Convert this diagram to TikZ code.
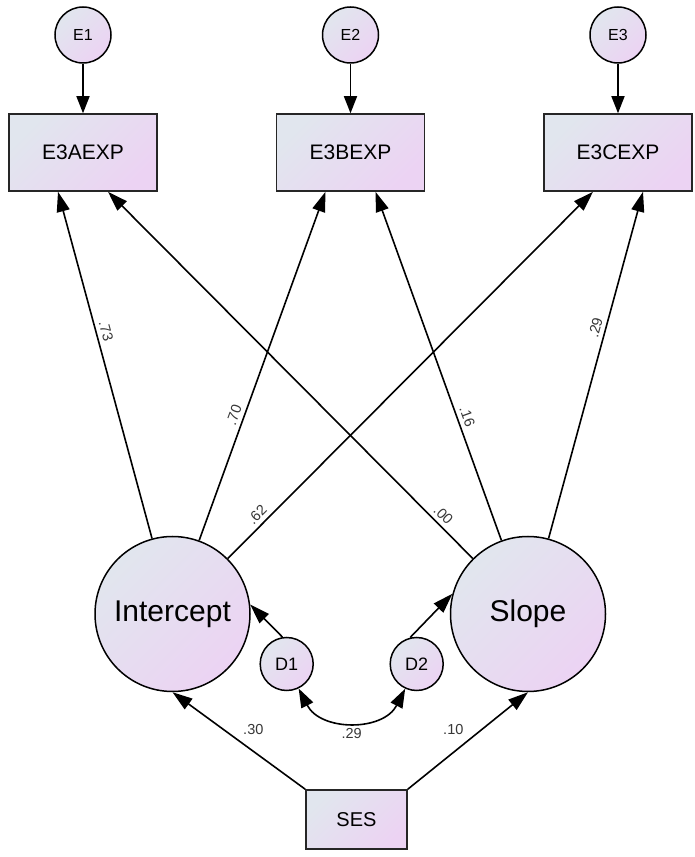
\documentclass[tikz,border=0pt]{standalone}
\usepackage{fontspec}
\setmainfont{Liberation Sans}
\usetikzlibrary{arrows.meta,calc}
\definecolor{fillA}{RGB}{225,230,238}
\definecolor{fillB}{RGB}{236,211,243}
\definecolor{lblgray}{RGB}{55,55,55}
\begin{document}
\begin{tikzpicture}[x=1pt,y=1pt,
  shadefill/.style={top color=fillA,bottom color=fillB,shading angle=45},
  lat/.style={circle,draw=black,line width=1.5pt,shadefill,inner sep=0pt},
  obs/.style={rectangle,draw=black!85,line width=1.5pt,shadefill,inner sep=0pt,minimum width=148pt,minimum height=77pt,font=\fontsize{21}{25}\selectfont},
  arr/.style={line width=1.6pt,-{Triangle[length=20pt,width=13pt]}},
  darr/.style={line width=1.6pt,{Triangle[length=19pt,width=13pt]}-{Triangle[length=19pt,width=13pt]}},
  coef/.style={font=\fontsize{14.5}{16}\selectfont,text=lblgray,inner sep=1pt},
]
\useasboundingbox (0,0) rectangle (694,857);
% error terms
\node[lat,minimum size=56pt,font=\fontsize{16}{18}\selectfont] (E1) at (83,822) {E1};
\node[lat,minimum size=56pt,font=\fontsize{16}{18}\selectfont] (E2) at (350.5,822) {E2};
\node[lat,minimum size=56pt,font=\fontsize{16}{18}\selectfont] (E3) at (618,822) {E3};
% observed
\node[obs] (B1) at (83,704.5) {E3AEXP};
\node[obs] (B2) at (350.5,704.5) {E3BEXP};
\node[obs] (B3) at (618,704.5) {E3CEXP};
% latent
\node[lat,minimum size=155pt,font=\fontsize{30}{34}\selectfont] (Int) at (172.5,243) {Intercept};
\node[lat,minimum size=155pt,font=\fontsize{30}{34}\selectfont] (Slope) at (528,243) {Slope};
\node[lat,minimum size=53pt,font=\fontsize{18}{20}\selectfont] (D1) at (286.7,193) {D1};
\node[lat,minimum size=53pt,font=\fontsize{18}{20}\selectfont] (D2) at (416.7,193) {D2};
\node[obs,minimum width=101pt,minimum height=59pt,font=\fontsize{20}{24}\selectfont] (SES) at (356.5,37.5) {SES};
% targets on box bottoms
\coordinate (a1) at ($(B1.south)+(-25,0)$);
\coordinate (a2) at ($(B1.south)+(25,0)$);
\coordinate (b1) at ($(B2.south)+(-25,0)$);
\coordinate (b2) at ($(B2.south)+(25,0)$);
\coordinate (c1) at ($(B3.south)+(-25,0)$);
\coordinate (c2) at ($(B3.south)+(25,0)$);
% arrows
\draw[arr,-{Triangle[length=17pt,width=13pt]}] (E1) -- (B1);
\draw[arr,-{Triangle[length=17pt,width=13pt]}] (E2) -- (B2);
\draw[arr,-{Triangle[length=17pt,width=13pt]}] (E3) -- (B3);
\draw[arr] (Int) -- node[coef,sloped,above=3pt,pos=0.59] (l73) {.73} (a1);
\draw[arr] (Int) -- node[coef,sloped,above=3pt,pos=0.35] (l70) {.70} (b1);
\draw[arr] (Int) -- node[coef,sloped,above=3pt,pos=0.10] (l62) {.62} (c1);
\draw[arr] (Slope) -- node[coef,sloped,above=3pt,pos=0.10] (l00) {.00} (a2);
\draw[arr] (Slope) -- node[coef,sloped,above=3pt,pos=0.345] (l16) {.16} (b2);
\draw[arr] (Slope) -- node[coef,sloped,above=3pt,pos=0.60] (l29a) {.29} (c2);
\draw[arr] (D1.99) -- (Int.7);
\draw[arr] (D2.104) -- (Slope.165);
\draw[arr] (SES.north west) -- (Int.south);
\draw[arr] (SES.north east) -- (Slope.south);
\draw[darr] (D1.-64) .. controls +(22,-43) and +(-22,-43) .. (D2.-115);
\node[coef] (l30) at (253.3,127.7) {.30};
\node[coef] (l10) at (453.3,127.7) {.10};
\node[coef] (l29b) at (351.7,123) {.29};
\end{tikzpicture}
\end{document}
